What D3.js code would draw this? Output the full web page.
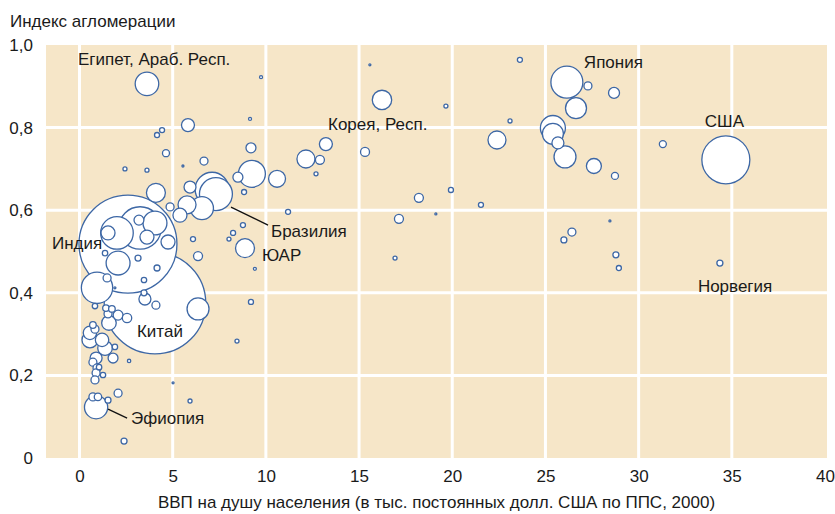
<!DOCTYPE html>
<html><head><meta charset="utf-8">
<script src="https://cdn.jsdelivr.net/npm/d3@7/dist/d3.min.js"></script>
<style>
body{margin:0;background:#fff}
text{font-family:"Liberation Sans",Arial,sans-serif;font-size:17px;fill:#1a1a1a}
</style>
</head><body>
<svg id="chart" width="835" height="514"></svg>
<script>
// ---- data ----
const xTicks = [0,5,10,15,20,25,30,35,40];
const yTicks = [0,0.2,0.4,0.6,0.8,1.0];
const yTickLabels = ["0","0,2","0,4","0,6","0,8","1,0"];
const xTitle = "ВВП на душу населения (в тыс. постоянных долл. США по ППС, 2000)";
const yTitle = "Индекс агломерации";

// GDP per capita (thousand $ PPP 2000)
const gdp = [3.62,9.74,9.15,5.82,4.43,4.16,4.64,9.20,6.68,2.44,3.62,5.55,9.25,8.50,10.60,8.83,4.10,7.11,7.32,5.93,
5.77,5.39,6.57,4.86,11.19,8.77,8.24,8.02,8.88,6.09,6.36,9.41,9.20,8.45,5.02,5.93,2.39,15.58,16.23,19.66,
23.63,23.10,22.40,13.22,12.15,12.90,12.69,15.32,18.21,19.93,21.54,19.12,17.14,16.93,26.15,27.28,28.68,26.64,25.40,25.67,
25.40,26.05,27.60,28.73,31.30,34.68,28.46,26.42,25.99,28.78,28.94,34.36,2.60,4.05,3.25,2.01,1.53,4.05,3.19,3.62,
4.75,2.07,3.14,4.16,1.37,1.48,0.94,3.46,1.90,3.46,3.51,4.10,6.36,0.83,1.42,1.74,2.07,2.55,1.53,1.58,
0.72,0.83,0.56,1.21,1.37,1.90,1.80,0.89,0.72,0.94,1.05,1.26,0.89,0.83,2.66,2.07,1.53,0.72,0.99,0.89,0.56];
// agglomeration index
const agglo = [0.906,0.922,0.821,0.806,0.794,0.782,0.738,0.751,0.719,0.700,0.697,0.707,0.688,0.680,0.676,0.644,0.642,0.651,0.639,0.656,
0.613,0.588,0.605,0.608,0.596,0.564,0.545,0.530,0.508,0.530,0.489,0.458,0.378,0.283,0.182,0.138,0.041,0.952,0.867,0.852,
0.964,0.816,0.770,0.760,0.724,0.722,0.688,0.741,0.630,0.649,0.613,0.591,0.579,0.484,0.910,0.901,0.884,0.847,0.799,0.763,
0.785,0.729,0.707,0.683,0.760,0.722,0.574,0.547,0.528,0.492,0.460,0.472,0.518,0.375,0.557,0.545,0.545,0.569,0.576,0.535,
0.523,0.472,0.484,0.460,0.496,0.436,0.412,0.431,0.412,0.400,0.385,0.370,0.361,0.368,0.363,0.361,0.346,0.339,0.349,0.327,
0.322,0.312,0.286,0.286,0.266,0.269,0.242,0.242,0.232,0.218,0.220,0.201,0.206,0.189,0.235,0.157,0.140,0.148,0.148,0.123,0.303];
// population (millions) -> bubble area
const pop = [68,1.1,1.1,20.7,3.1,3.1,6,12.2,7.8,2,2,0.5,89,12.2,35,3.1,44,140,133,17.6,
39.7,24,64.7,7.8,3.1,3.1,3.1,2,44,3.1,9.9,1.1,3.1,2,0.5,2,4.4,0.5,46,2,
3.1,2,39.7,20.7,39.7,9.9,2,9.9,9.9,3.1,3.1,0.5,9.9,2,125,7.8,14.8,54,76.5,17.6,
54,59,27.5,6,6,282,0.5,7.8,4.4,4.4,3.1,4.5,1175,1262,220,130,24,70,12,24,
24,70,4.4,4.4,3.6,7.8,120,3.6,0.5,4.4,17.6,7.8,59,3.6,5.3,5.3,12,10.8,7.8,26,
5.3,7.8,31,22,26,3.6,12,17.6,7.8,7.8,3.6,3.6,7.8,7.8,1.4,7.8,4.4,7.8,6.7,66,22];

// labelled countries (index into arrays above)
const labelIdx  = [0, 54, 38, 65, 71, 17, 28, 72, 73, 119];
const labelText = ["Египет, Араб. Респ.","Япония","Корея, Респ.","США","Норвегия","Бразилия","ЮАР","Индия","Китай","Эфиопия"];

// ---- layout ----
const labelOffset = [[-69,-19],[17,-14],[-54,30],[-21,-33],[-22,29],[59,48],[17,13],[-76,5],[-18,34],[35,17]];
const leaders = {5:[19,18,56,36], 9:[12,2,31,11]};

const svg = d3.select("#chart");
const x = d3.scaleLinear().domain([0,40]).range([79.5,825]);
const y = d3.scaleLinear().domain([0,1]).range([458,45]);
const r = d3.scaleSqrt().domain([0,282]).range([0,24]);

const plotL = 46, plotR = 827;
svg.append("rect").attr("x",plotL).attr("y",y(1)).attr("width",plotR-plotL).attr("height",y(0)-y(1)).attr("fill","#f6e6c8");

// grid
svg.append("g").selectAll("line").data(xTicks.filter(d=>d<40)).join("line")
  .attr("x1",d=>x(d)).attr("x2",d=>x(d)).attr("y1",y(1)).attr("y2",y(0))
  .attr("stroke","#fff").attr("stroke-width",3);
svg.append("g").selectAll("line").data(yTicks.filter(d=>d>0&&d<1)).join("line")
  .attr("x1",plotL).attr("x2",plotR).attr("y1",d=>y(d)).attr("y2",d=>y(d))
  .attr("stroke","#fff").attr("stroke-width",3);

// axes (labels only)
const xAxis = d3.axisBottom(x).tickValues(xTicks).tickSize(0).tickPadding(0).tickFormat(d=>d);
const gx = svg.append("g").attr("transform","translate(0,470)").call(xAxis);
gx.select(".domain").remove();
gx.selectAll("text").attr("font-size",null).attr("font-family",null).attr("dy","0.71em").attr("y",0);

const yAxis = d3.axisLeft(y).tickValues(yTicks).tickSize(0).tickPadding(0).tickFormat((d,i)=>yTickLabels[i]);
const gy = svg.append("g").attr("transform","translate(33,0)").call(yAxis);
gy.select(".domain").remove();
gy.selectAll("text").attr("font-size",null).attr("font-family",null);

svg.append("text").attr("x",10).attr("y",27).text(yTitle);
svg.append("text").attr("x",(plotL+plotR)/2).attr("y",508).attr("text-anchor","middle").text(xTitle);

// bubbles
const data = gdp.map((g,i)=>({g, a:agglo[i], p:pop[i], i}));
data.sort((a,b)=>b.p-a.p);
svg.append("g").selectAll("circle").data(data).join("circle")
  .attr("cx",d=>x(d.g)).attr("cy",d=>y(d.a)).attr("r",d=>Math.max(r(d.p),1))
  .attr("fill","#fff").attr("stroke","#3d67a5").attr("stroke-width",1.3);

// annotations
const ann = svg.append("g");
labelIdx.forEach((idx,k)=>{
  const cx = x(gdp[idx]), cy = y(agglo[idx]);
  ann.append("text").attr("x",cx+labelOffset[k][0]).attr("y",cy+labelOffset[k][1]).text(labelText[k]);
  if (leaders[k]) {
    const l = leaders[k];
    ann.append("line").attr("x1",cx+l[0]).attr("y1",cy+l[1]).attr("x2",cx+l[2]).attr("y2",cy+l[3])
      .attr("stroke","#111").attr("stroke-width",1.3);
  }
});
</script>
</body></html>
